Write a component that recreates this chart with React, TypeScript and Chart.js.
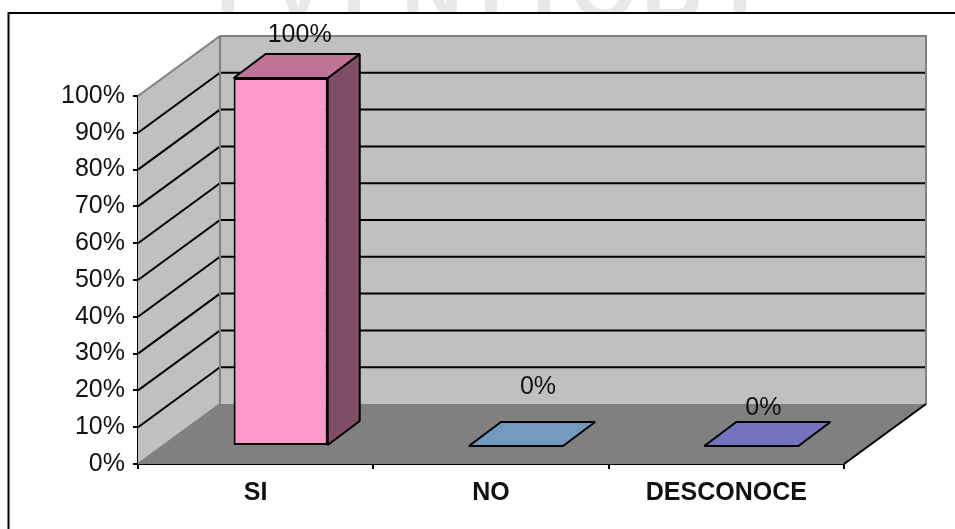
import React, { useEffect, useRef } from "react";
import { Chart, registerables } from "chart.js";

Chart.register(...registerables);

const categories = ["SI", "NO", "DESCONOCE"];
const values = [100, 0, 0];
const dataLabels = ["100%", "0%", "0%"];
const frontColors = ["#FF99CC", "#99CCFF", "#9999FF"];
const topColors = ["#BF7399", "#7399BF", "#7373BF"];
const sideColors = ["#804D66", "#4D6680", "#4D4D80"];
const watermarkLetters = ["I", "V", "I", "N", "I", "I", "O", "B", "I"];

const FONT = '"Liberation Sans", Arial, sans-serif';
const FLOOR_DX = 82;
const FLOOR_DY = -60;
const BAR_DX = 25;
const BAR_DY = -18;
const TOP_DX = 32;
const TOP_DY = -24;
const LINE = 2;
const LABEL_SHIFT = [
  { x: 3, y: -18 },
  { x: 6, y: -34 },
  { x: -4, y: -13 },
];
const WATERMARK_X = [228, 298, 354, 432, 491, 544, 604, 672, 740];

const poly = (ctx: CanvasRenderingContext2D, pts: number[][], fill?: string, stroke?: string, lw = LINE) => {
  ctx.beginPath();
  pts.forEach((p, i) => (i ? ctx.lineTo(p[0], p[1]) : ctx.moveTo(p[0], p[1])));
  ctx.closePath();
  if (fill) {
    ctx.fillStyle = fill;
    ctx.fill();
  }
  if (stroke) {
    ctx.strokeStyle = stroke;
    ctx.lineWidth = lw;
    ctx.lineJoin = "bevel";
    ctx.stroke();
  }
};

const line = (ctx: CanvasRenderingContext2D, pts: number[][], color: string, lw: number) => {
  ctx.beginPath();
  pts.forEach((p, i) => (i ? ctx.lineTo(p[0], p[1]) : ctx.moveTo(p[0], p[1])));
  ctx.strokeStyle = color;
  ctx.lineWidth = lw;
  ctx.lineJoin = "miter";
  ctx.stroke();
};

const pageDecor = {
  id: "pageDecor",
  beforeDraw(chart: any) {
    const { ctx, width, height } = chart;
    ctx.save();
    ctx.fillStyle = "#fff";
    ctx.fillRect(0, 0, width, height);
    ctx.beginPath();
    ctx.rect(0, 0, width, 13);
    ctx.clip();
    ctx.fillStyle = "#E8E8E8";
    ctx.font = `bold 84px ${FONT}`;
    ctx.textAlign = "center";
    ctx.textBaseline = "alphabetic";
    watermarkLetters.forEach((l, i) => ctx.fillText(l, WATERMARK_X[i], 18));
    ctx.restore();
    ctx.save();
    line(ctx, [[8.5, height], [8.5, 13], [width, 13]], "#000", 2);
    ctx.restore();
  },
};

const walls = {
  id: "walls",
  beforeDatasetsDraw(chart: any) {
    const { ctx, scales } = chart;
    const x0 = scales.x.left;
    const x1 = scales.x.right;
    const yBase = scales.y.getPixelForValue(0);
    const yTop = scales.y.getPixelForValue(100);
    const bx0 = x0 + FLOOR_DX;
    const bx1 = x1 + FLOOR_DX;
    const by = yBase + FLOOR_DY;
    const bt = yTop + FLOOR_DY;
    ctx.save();
    poly(ctx, [[bx0, bt], [bx1, bt], [bx1, by], [bx0, by]], "#C0C0C0");
    poly(ctx, [[x0, yTop], [bx0, bt], [bx0, by], [x0, yBase]], "#C0C0C0");
    poly(ctx, [[x0, yBase], [bx0, by], [bx1, by], [x1, yBase]], "#808080");
    scales.y.ticks.forEach((t: any) => {
      if (t.value === 0 || t.value === 100) return;
      const y = scales.y.getPixelForValue(t.value);
      line(ctx, [[x0, y], [bx0, y + FLOOR_DY], [bx1, y + FLOOR_DY]], "#000", LINE);
    });
    line(ctx, [[x0, yTop], [bx0, bt], [bx1, bt], [bx1, by]], "#808080", LINE);
    line(ctx, [[bx0, bt], [bx0, by], [x0, yBase]], "#808080", LINE);
    line(ctx, [[x1, yBase], [bx1, by]], "#000", LINE);
    ctx.restore();
  },
  beforeDatasetDraw(chart: any) {
    chart.ctx.save();
    chart.ctx.translate(BAR_DX, BAR_DY);
  },
  afterDatasetDraw(chart: any, args: any) {
    const { ctx } = chart;
    args.meta.data.forEach((bar: any, i: number) => {
      const { x, y, base, width } = bar.getProps(["x", "y", "base", "width"], true);
      const l = x - width / 2;
      const r = x + width / 2;
      if (Math.abs(base - y) > 0.5) {
        poly(ctx, [[r, y], [r + TOP_DX, y + TOP_DY], [r + TOP_DX, base + TOP_DY], [r, base]], sideColors[i], "#000");
      }
      poly(ctx, [[l, y], [l + TOP_DX, y + TOP_DY], [r + TOP_DX, y + TOP_DY], [r, y]], topColors[i], "#000");
    });
    ctx.restore();
    ctx.save();
    ctx.font = `25px ${FONT}`;
    ctx.fillStyle = "#111";
    ctx.textAlign = "center";
    ctx.textBaseline = "bottom";
    args.meta.data.forEach((bar: any, i: number) => {
      const { x, y } = bar.getProps(["x", "y"], true);
      ctx.fillText(dataLabels[i], x + BAR_DX + TOP_DX / 2 + LABEL_SHIFT[i].x, y + BAR_DY + TOP_DY + LABEL_SHIFT[i].y + 12);
    });
    ctx.restore();
  },
};

export default function App() {
  const ref = useRef<HTMLCanvasElement>(null);
  useEffect(() => {
    const chart = new Chart(ref.current as HTMLCanvasElement, {
      type: "bar",
      data: {
        labels: categories,
        datasets: [
          {
            data: values,
            backgroundColor: frontColors,
            borderColor: "#000",
            borderWidth: LINE,
            borderSkipped: false,
            barPercentage: 0.4,
            categoryPercentage: 1,
          },
        ],
      },
      options: {
        responsive: false,
        animation: false,
        devicePixelRatio: 1,
        layout: { padding: { left: 0, right: 111, top: 96, bottom: 0 } },
        plugins: { legend: { display: false }, title: { display: false }, tooltip: { enabled: false } },
        scales: {
          x: {
            afterFit: (s: any) => {
              s.height = 65;
            },
            border: { color: "#000", width: 2 },
            grid: { drawOnChartArea: false, drawTicks: true, tickLength: 5, color: "#000", lineWidth: 2 },
            ticks: {
              font: { family: FONT, size: 25, weight: "bold" },
              color: "#111",
              padding: 9,
              maxRotation: 0,
              autoSkip: false,
            },
          },
          y: {
            min: 0,
            max: 100,
            afterFit: (s: any) => {
              s.width = 138;
            },
            border: { color: "#000", width: 2 },
            grid: { drawOnChartArea: false, drawTicks: true, tickLength: 5, color: "#000", lineWidth: 2 },
            ticks: {
              stepSize: 10,
              font: { family: FONT, size: 25 },
              color: "#111",
              padding: 8,
              callback: (v: any) => `${v}%`,
            },
          },
        },
      },
      plugins: [pageDecor, walls],
    } as any);
    return () => chart.destroy();
  }, []);
  return (
    <canvas
      ref={ref}
      width={955}
      height={529}
      style={{ position: "fixed", left: 0, top: 0, width: 955, height: 529, display: "block" }}
    />
  );
}
